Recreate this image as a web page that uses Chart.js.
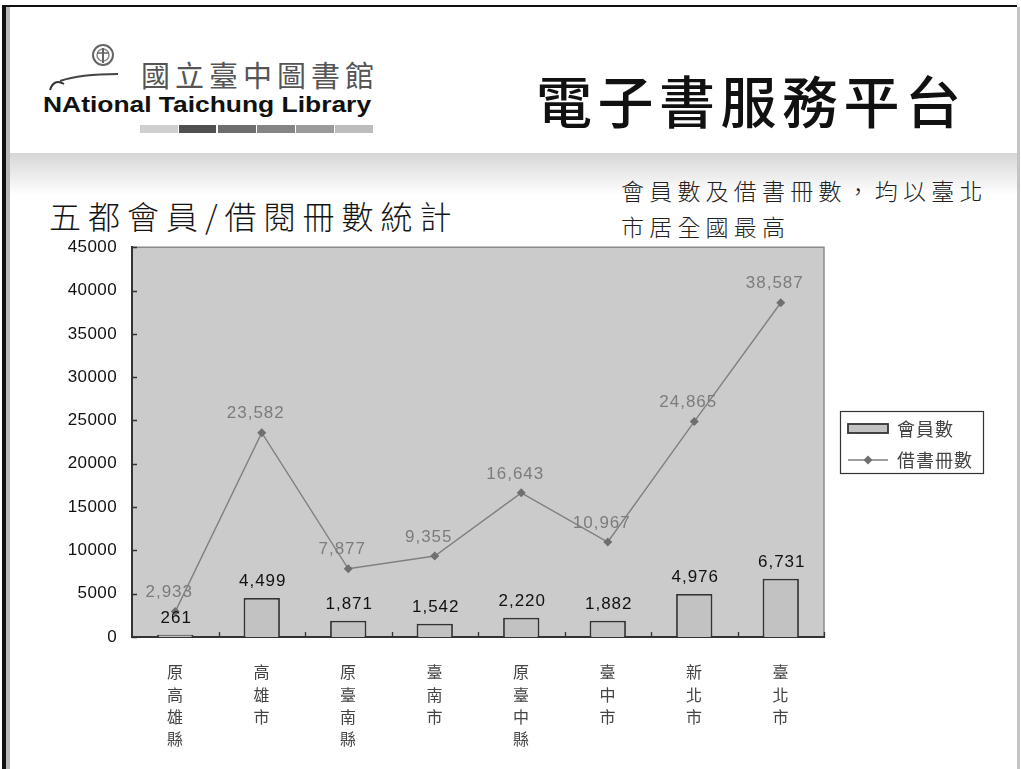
<!DOCTYPE html>
<html>
<head>
<meta charset="utf-8">
<script src="https://cdn.jsdelivr.net/npm/chart.js@4.4.1/dist/chart.umd.min.js"></script>
<style>
html,body{margin:0;padding:0;background:#fff;width:1021px;height:769px;overflow:hidden;position:relative;}
.abs{position:absolute;white-space:nowrap;}
#frameTop{left:2px;top:5px;width:1015px;height:2px;background:#111;}
#frameLeft{left:2px;top:5px;width:4px;height:764px;background:#111;}
#frameLeft2{left:6px;top:7px;width:4px;height:762px;background:#b8b8b8;}
#frameRight{left:1017px;top:7px;width:3px;height:762px;background:#c4c4c4;}
#band{left:10px;top:153px;width:1007px;height:42px;background:linear-gradient(#d6d6d6,#ffffff);}
#logoCn{left:141px;top:57px;font-family:"Noto Sans CJK TC",sans-serif;font-size:29px;line-height:34px;letter-spacing:5px;color:#555;}
#logoEn{left:43px;top:93px;font-family:"Liberation Sans",Arial,sans-serif;font-weight:bold;font-size:22px;line-height:24px;color:#111;transform:scaleX(1.2);transform-origin:0 0;}
#mainTitle{left:536px;top:64px;font-family:"Noto Sans CJK TC",sans-serif;font-weight:500;font-size:56px;line-height:70px;letter-spacing:5.5px;color:#111;}
#chartTitle{left:49px;top:193px;font-family:"Noto Sans CJK TC",sans-serif;font-size:32px;line-height:44px;letter-spacing:7px;color:#151515;font-weight:300;}
#note{left:621px;top:172px;font-family:"Noto Sans CJK TC",sans-serif;font-size:23px;line-height:36px;letter-spacing:5.2px;color:#222;font-weight:300;}
#chartBox{left:0px;top:230px;width:1010px;height:535px;}
</style>
</head>
<body>
<div class="abs" id="band"></div>
<div class="abs" id="frameTop"></div>
<div class="abs" id="frameLeft"></div>
<div class="abs" id="frameLeft2"></div>
<div class="abs" id="frameRight"></div>

<svg class="abs" style="left:40px;top:38px" width="110" height="60" viewBox="0 0 110 60">
  <circle cx="63" cy="17" r="10" fill="none" stroke="#666" stroke-width="2"/>
  <circle cx="63" cy="17" r="6" fill="none" stroke="#888" stroke-width="1.5"/>
  <line x1="63" y1="10" x2="63" y2="25" stroke="#666" stroke-width="2"/>
  <line x1="57" y1="15" x2="69" y2="15" stroke="#666" stroke-width="1.5"/>
  <path d="M20 43 Q40 36 78 36" fill="none" stroke="#444" stroke-width="2"/>
  <path d="M10 52 Q14 40 24 46" fill="none" stroke="#333" stroke-width="2"/>
</svg>
<div class="abs" id="logoCn">國立臺中圖書館</div>
<div class="abs" id="logoEn">NAtional Taichung Library</div>
<div class="abs" style="left:140px;top:125px;width:38px;height:8px;background:#cfcfcf"></div>
<div class="abs" style="left:179px;top:125px;width:37px;height:8px;background:#505050"></div>
<div class="abs" style="left:218px;top:125px;width:38px;height:8px;background:#6e6e6e"></div>
<div class="abs" style="left:257px;top:125px;width:38px;height:8px;background:#858585"></div>
<div class="abs" style="left:296px;top:125px;width:38px;height:8px;background:#9a9a9a"></div>
<div class="abs" style="left:335px;top:125px;width:38px;height:8px;background:#bdbdbd"></div>

<div class="abs" id="mainTitle">電子書服務平台</div>
<div class="abs" id="chartTitle">五都會員/借閱冊數統計</div>
<div class="abs" id="note">會員數及借書冊數，均以臺北<br>市居全國最高</div>

<div class="abs" id="chartBox"><canvas id="c"></canvas></div>

<script>
// ---- data ----
const categories = ['原高雄縣','高雄市','原臺南縣','臺南市','原臺中縣','臺中市','新北市','臺北市'];
const members = [261, 4499, 1871, 1542, 2220, 1882, 4976, 6731];
const loans = [2933, 23582, 7877, 9355, 16643, 10967, 24865, 38587];
const yTickLabels = ['0','5000','10000','15000','20000','25000','30000','35000','40000','45000'];
const seriesNames = ['會員數', '借書冊數'];

const fmt = v => v.toLocaleString('en-US');
const NUM_FONT = '17px "Liberation Sans", Arial, sans-serif';
const CJK = '"Noto Sans CJK TC", sans-serif';

const chromePlugin = {
  id: 'chrome',
  beforeDraw(chart) {
    const {ctx, chartArea: a} = chart;
    ctx.letterSpacing = '0.4px';
    ctx.save();
    ctx.fillStyle = '#cbcbcb';
    ctx.fillRect(a.left, a.top, a.right - a.left, a.bottom - a.top);
    ctx.strokeStyle = '#8a8a8a';
    ctx.lineWidth = 1.5;
    ctx.beginPath();
    ctx.moveTo(a.left, a.top); ctx.lineTo(a.right, a.top); ctx.lineTo(a.right, a.bottom);
    ctx.stroke();
    ctx.restore();
  },
  afterDatasetsDraw(chart) {
    const {ctx} = chart;
    ctx.save();
    ctx.letterSpacing = '1px';
    ctx.font = NUM_FONT;
    ctx.textAlign = 'center';
    ctx.textBaseline = 'alphabetic';
    const barMeta = chart.getDatasetMeta(1);
    ctx.fillStyle = '#111';
    barMeta.data.forEach((el, i) => {
      ctx.fillText(fmt(members[i]), el.x + 1, el.y - 12);
    });
    const lineMeta = chart.getDatasetMeta(0);
    ctx.fillStyle = '#7c7c7c';
    ctx.textBaseline = 'middle';
    lineMeta.data.forEach((el, i) => {
      ctx.fillText(fmt(loans[i]), el.x - 6, el.y - 19);
    });
    ctx.restore();
  },
  afterDraw(chart) {
    const {ctx, chartArea: a} = chart;
    const ys = chart.scales.y;
    ctx.save();
    ctx.strokeStyle = '#333';
    ctx.lineWidth = 1.3;
    ctx.beginPath();
    ys.ticks.forEach(t => {
      const y = Math.round(ys.getPixelForValue(t.value)) + 0.5;
      ctx.moveTo(a.left, y); ctx.lineTo(a.left + 5, y);
    });
    const n = categories.length;
    const w = (a.right - a.left) / n;
    for (let i = 1; i <= n; i++) {
      const x = Math.round(a.left + i * w) + 0.5;
      ctx.moveTo(x, a.bottom); ctx.lineTo(x, a.bottom - 5);
    }
    ctx.stroke();

    // legend
    const bx = a.right + 16, bw = 143, bh = 62;
    const by = Math.round((a.top + a.bottom) / 2 - bh / 2);
    ctx.fillStyle = '#fff';
    ctx.fillRect(bx, by, bw, bh);
    ctx.strokeStyle = '#333';
    ctx.lineWidth = 1.2;
    ctx.strokeRect(bx + 0.5, by + 0.5, bw, bh);
    ctx.fillStyle = '#c2c2c2';
    ctx.fillRect(bx + 8, by + 13, 40, 9);
    ctx.strokeStyle = '#333';
    ctx.lineWidth = 1.8;
    ctx.strokeRect(bx + 8, by + 13, 40, 9);
    ctx.strokeStyle = '#7f7f7f';
    ctx.lineWidth = 1.4;
    ctx.beginPath();
    ctx.moveTo(bx + 8, by + 49); ctx.lineTo(bx + 48, by + 49);
    ctx.stroke();
    ctx.fillStyle = '#6f6f6f';
    ctx.beginPath();
    const dx = bx + 28, dy = by + 49;
    ctx.moveTo(dx, dy - 4.5); ctx.lineTo(dx + 4.5, dy); ctx.lineTo(dx, dy + 4.5); ctx.lineTo(dx - 4.5, dy);
    ctx.closePath(); ctx.fill();
    ctx.letterSpacing = '1px';
    ctx.font = '18px ' + CJK;
    ctx.fillStyle = '#444';
    ctx.textAlign = 'left';
    ctx.textBaseline = 'middle';
    ctx.fillText(seriesNames[0], bx + 57, by + 18);
    ctx.fillText(seriesNames[1], bx + 57, by + 49);
    ctx.restore();
  }
};

new Chart(document.getElementById('c'), {
  type: 'bar',
  data: {
    labels: categories.map(s => s.split('')),
    datasets: [
      {
        type: 'line',
        label: seriesNames[1],
        data: loans,
        borderColor: '#808080',
        borderWidth: 1.4,
        pointStyle: 'rectRot',
        pointRadius: 4.5,
        pointBackgroundColor: '#6f6f6f',
        pointBorderColor: '#6f6f6f',
        pointBorderWidth: 0,
        tension: 0,
        order: 0
      },
      {
        type: 'bar',
        label: seriesNames[0],
        data: members,
        backgroundColor: '#c2c2c2',
        borderColor: '#333333',
        borderWidth: 1.8,
        borderSkipped: 'bottom',
        barPercentage: 0.84,
        categoryPercentage: 0.5,
        order: 1
      }
    ]
  },
  options: {
    responsive: true,
    maintainAspectRatio: false,
    animation: false,
    layout: { padding: { top: 4, right: 186, left: 0, bottom: 0 } },
    plugins: { legend: { display: false }, tooltip: { enabled: false } },
    scales: {
      x: {
        offset: true,
        grid: { display: false },
        border: { display: true, color: '#333', width: 2 },
        ticks: {
          color: '#444',
          padding: 16,
          maxRotation: 0,
          autoSkip: false,
          font: { family: CJK, size: 16, lineHeight: 1.4 }
        },
        afterFit: s => { s.height = 128; }
      },
      y: {
        min: 0,
        max: 45000,
        grid: { display: false },
        border: { display: true, color: '#333', width: 2 },
        ticks: {
          stepSize: 5000,
          color: '#111',
          padding: 7,
          font: { family: '"Liberation Sans", Arial, sans-serif', size: 17 },
          callback: (v, i) => yTickLabels[i]
        },
        afterFit: s => { s.width = 132; }
      }
    }
  },
  plugins: [chromePlugin]
});
</script>
</body>
</html>
